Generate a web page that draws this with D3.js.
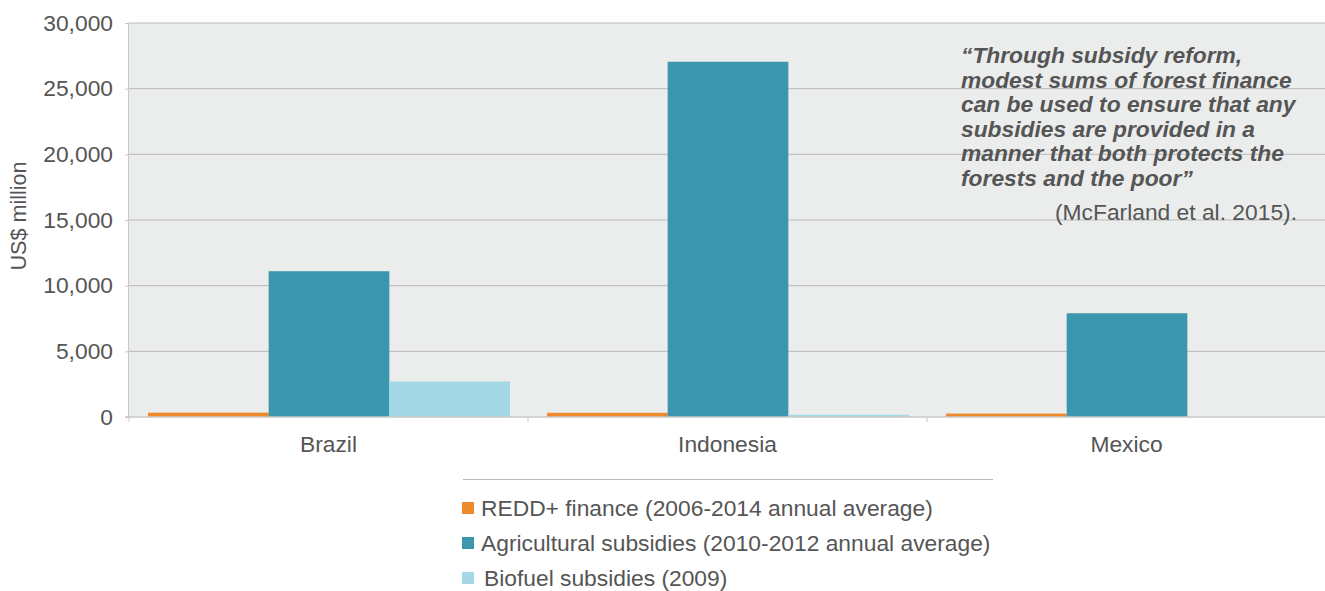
<!DOCTYPE html>
<html><head><meta charset="utf-8">
<script src="https://cdn.jsdelivr.net/npm/d3@7"></script>
<style>
body{margin:0;background:#fff;}
svg text{font-family:"Liberation Sans",Arial,Helvetica,sans-serif;}
</style></head>
<body><svg id="c" width="1325" height="591"></svg>
<script>
const categories = ["Brazil","Indonesia","Mexico"];
const seriesNames = ["REDD+ finance (2006-2014 annual average)","Agricultural subsidies (2010-2012 annual average)","Biofuel subsidies (2009)"];
const reddValues = [330, 320, 260];
const agriValues = [11100, 27050, 7900];
const biofuelValues = [2700, 170, 0];
const yTicks = [0,5000,10000,15000,20000,25000,30000];
const colors = ["#EF8A2C","#3B97AE","#A4D8E6"];
const quoteLines = ["\u201CThrough subsidy reform,","modest sums of forest finance","can be used to ensure that any","subsidies are provided in a","manner that both protects the","forests and the poor\u201D"];
const citation = "(McFarland et al. 2015).";

const svg = d3.select("#c");
const pL=129, pR=1326, pT=23, pB=417;
const FS = "22.8px";
const x0 = d3.scaleBand().domain(categories).range([pL,pR]).paddingInner(0).paddingOuter(0);
const x1 = d3.scaleBand().domain(d3.range(3)).range([19, x0.bandwidth()-18]).padding(0);
const y = d3.scaleLinear().domain([0,30000]).range([pB,pT]);

svg.append("rect").attr("x",pL).attr("y",pT).attr("width",pR-pL).attr("height",pB-pT).attr("fill","#EBECEC");

// gridlines
svg.append("g").selectAll("line").data(yTicks.filter(d=>d>0)).join("line")
  .attr("x1",pL).attr("x2",pR).attr("y1",d=>y(d)).attr("y2",d=>y(d))
  .attr("stroke","#B9B9B9").attr("stroke-width",1);

// y axis
const yAxis = svg.append("g").attr("transform",`translate(${pL},0)`)
  .call(d3.axisLeft(y).tickValues(yTicks).tickFormat(d3.format(",")).tickSize(4).tickPadding(12));
yAxis.select(".domain").attr("stroke","#C8C8C8").attr("d",`M-0.5,${pT}V${pB}`);
yAxis.selectAll(".tick line").attr("stroke","#C8C8C8");
yAxis.selectAll("text").attr("fill","#555").style("font-size",FS);

// bars
const data = categories.map((c,i)=>({c, vals:[reddValues[i],agriValues[i],biofuelValues[i]]}));
svg.append("g").selectAll("g").data(data).join("g")
  .attr("transform",d=>`translate(${x0(d.c)},0)`)
  .selectAll("rect").data(d=>d.vals.map((v,k)=>({v,k}))).join("rect")
  .attr("x",d=>x1(d.k)).attr("width",x1.bandwidth())
  .attr("y",d=>y(d.v)).attr("height",d=>pB-y(d.v))
  .attr("fill",d=>colors[d.k]);

// x axis
const xAxis = svg.append("g").attr("transform",`translate(0,${pB})`)
  .call(d3.axisBottom(x0).tickSize(0).tickPadding(19));
xAxis.select(".domain").attr("stroke","#C8C8C8").attr("stroke-width",1.5).attr("d",`M${pL-4},0H${pR}`);
xAxis.selectAll("text").attr("fill","#555").style("font-size",FS);
// category separators
svg.append("g").selectAll("line").data(categories.slice(1)).join("line")
  .attr("x1",d=>x0(d)).attr("x2",d=>x0(d)).attr("y1",pB).attr("y2",pB+5)
  .attr("stroke","#C8C8C8");
svg.append("line").attr("x1",pL).attr("x2",pL).attr("y1",pB).attr("y2",pB+5).attr("stroke","#C8C8C8");

// y label
svg.append("text").attr("transform","translate(26,216) rotate(-90)").attr("text-anchor","middle")
  .attr("fill","#555").style("font-size","21.6px").text("US$ million");

// quote
const q = svg.append("text").attr("fill","#555").style("font-size",FS).style("font-weight","bold").style("font-style","italic");
q.selectAll("tspan").data(quoteLines).join("tspan").attr("x",961).attr("y",(d,i)=>63+i*24.5).text(d=>d);
svg.append("text").attr("x",1297).attr("y",220).attr("text-anchor","end").attr("fill","#555").style("font-size",FS).text(citation);

// legend
svg.append("line").attr("x1",463).attr("x2",993).attr("y1",479.5).attr("y2",479.5).attr("stroke","#B9B9B9");
const lg = svg.append("g").selectAll("g").data(seriesNames).join("g")
  .attr("transform",(d,i)=>`translate(462,${508+i*35})`);
lg.append("rect").attr("x",0).attr("y",-6).attr("width",12).attr("height",12).attr("fill",(d,i)=>colors[i]);
lg.append("text").attr("x",(d,i)=>i==2?22:19).attr("y",8).attr("fill","#555").style("font-size",FS).text(d=>d);
</script></body></html>
